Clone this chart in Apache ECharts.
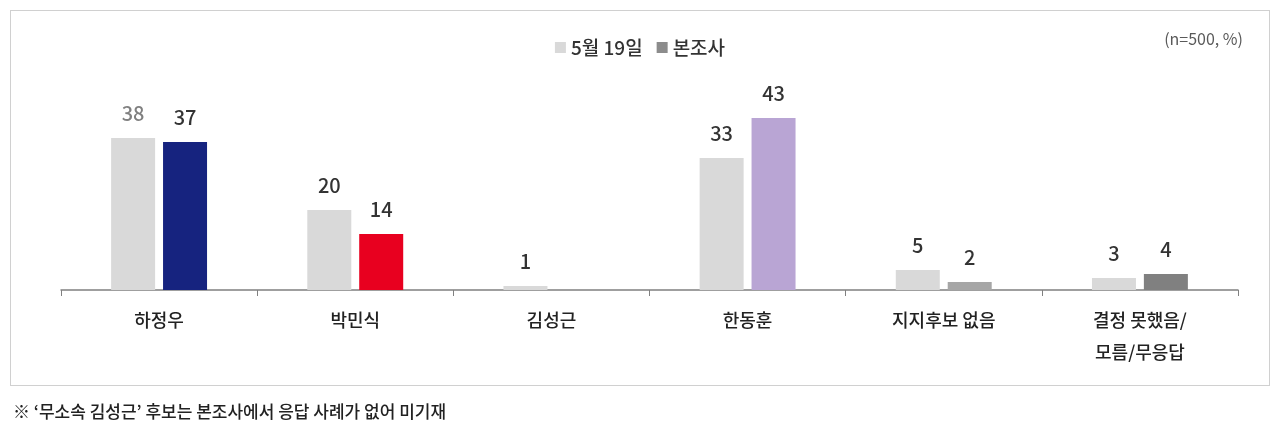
<!DOCTYPE html><html><head><meta charset="utf-8">
<script src="https://cdn.jsdelivr.net/npm/echarts@6/dist/echarts.min.js"></script>
<style>body{margin:0;background:#fff}#c{width:1280px;height:433px}
#box{position:absolute;left:10px;top:10px;width:1258px;height:374px;border:1px solid #d0d0d0;pointer-events:none}</style></head><body>
<div id="c"></div><div id="box"></div>
<script>
const categories=['하정우','박민식','김성근','한동훈','지지후보 없음','결정 못했음/\n모름/무응답'];
const seriesNames=['5월 19일','본조사'];
const may19=[38,20,1,33,5,3];
const main=[37,14,null,43,2,4];
const mainColors=['#16237f','#e8001f','#cccccc','#b9a5d4','#a6a6a6','#808080'];
const f="'Noto Sans CJK KR','Noto Sans',sans-serif";
const ch=echarts.init(document.getElementById('c'));
ch.setOption({
 textStyle:{fontFamily:f},
 title:[{text:'(n=500, %)',right:32,top:26,textStyle:{fontSize:16,fontWeight:'normal',color:'#595959',fontFamily:f}},
  {text:'※ ‘무소속 김성근’ 후보는 본조사에서 응답 사례가 없어 미기재',left:8,top:398,textStyle:{fontSize:17,fontWeight:500,color:'#222',fontFamily:f}}],
 legend:{top:33,left:'center',itemWidth:11,itemHeight:11,itemGap:14,icon:'rect',textStyle:{fontSize:19,fontWeight:500,color:'#333',fontFamily:f},
  data:[{name:'5월 19일',itemStyle:{color:'#d9d9d9'}},{name:'본조사',itemStyle:{color:'#8c8c8c'}}]},
 grid:{left:61,right:42,top:10,bottom:143},
 xAxis:{type:'category',data:categories,axisLine:{lineStyle:{color:'#808080',width:1.5}},
  axisTick:{show:true,length:6,lineStyle:{color:'#808080'}},
  axisLabel:{fontSize:18,fontWeight:500,color:'#222',margin:14,lineHeight:32,fontFamily:f}},
 yAxis:{type:'value',min:0,max:70,show:false,splitLine:{show:false}},
 series:[
  {name:seriesNames[0],type:'bar',data:may19.map((v,i)=>({value:v,label:{color:i===0?'#808080':'#333'}})),itemStyle:{color:'#d9d9d9'},barWidth:44,barGap:'18%',
   label:{show:true,position:'top',distance:15,fontSize:20,fontWeight:500,fontFamily:f}},
  {name:seriesNames[1],type:'bar',data:main.map((v,i)=>({value:v,itemStyle:{color:mainColors[i]}})),barWidth:44,
   label:{show:true,position:'top',distance:15,fontSize:20,fontWeight:500,color:'#333',fontFamily:f}}
 ]});
</script></body></html>
